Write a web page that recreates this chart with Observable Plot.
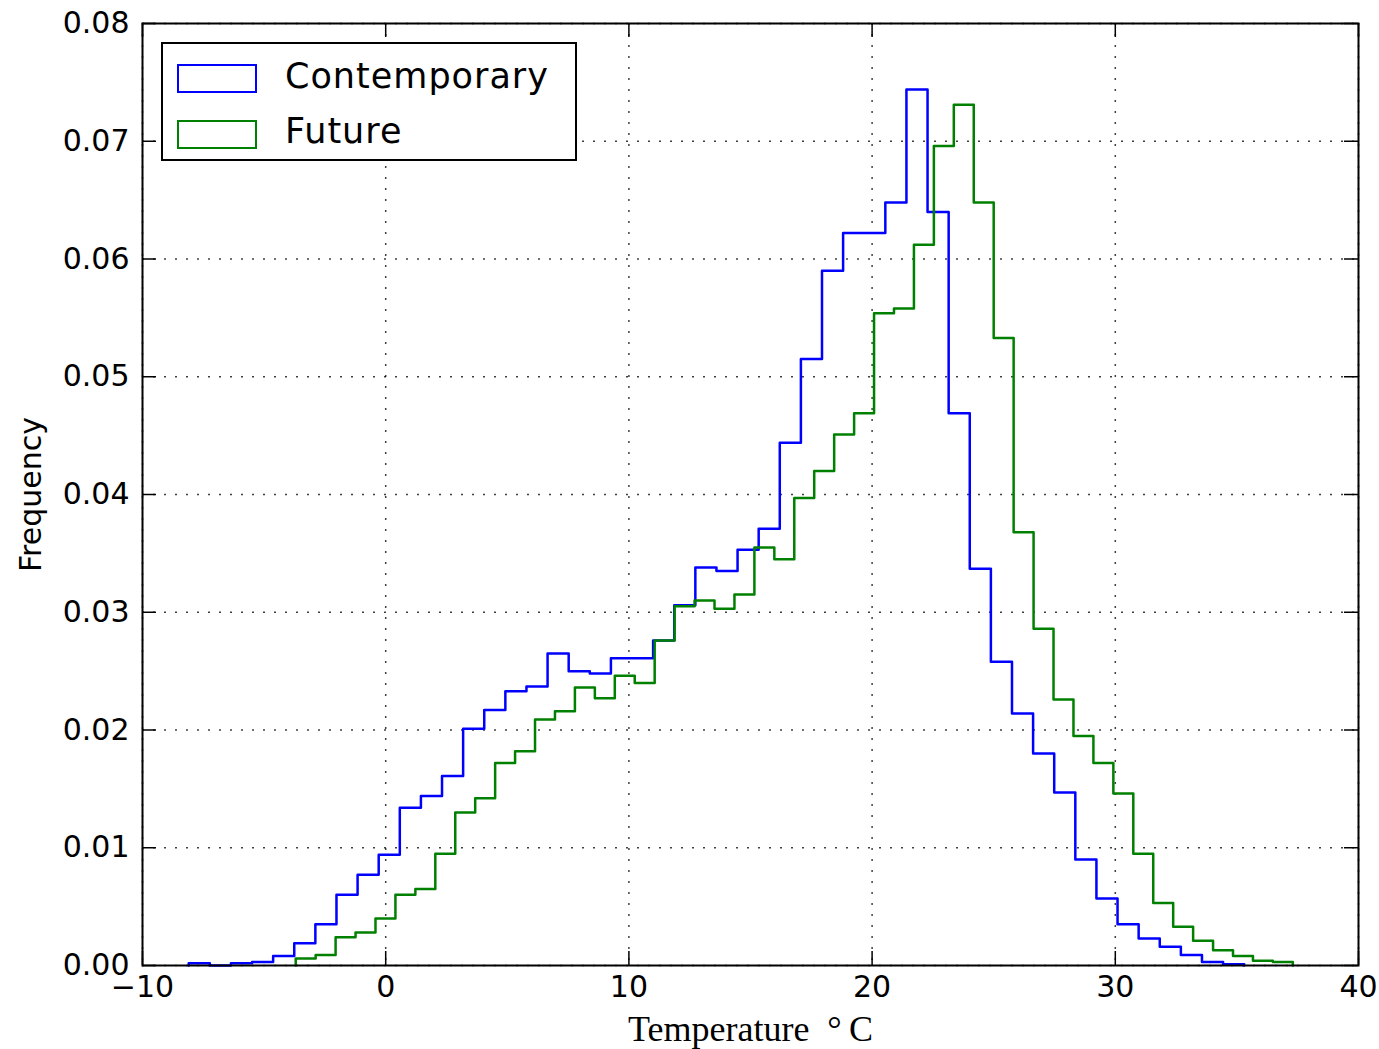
<!DOCTYPE html>
<html>
<head>
<meta charset="utf-8">
<script src="https://cdn.jsdelivr.net/npm/d3@7"></script>
<script src="https://cdn.jsdelivr.net/npm/@observablehq/plot@0.6"></script>
<style>
  html, body { margin: 0; padding: 0; background: #fff; }
  #wrap { position: relative; width: 1379px; height: 1049px; }
  #legend {
    position: absolute; left: 161px; top: 42px; width: 412px; height: 115px;
    border: 2px solid #000; background: #fff; font-family: "DejaVu Sans", sans-serif;
  }
  .item { position: absolute; left: 0; height: 40px; display: flex; align-items: center; }
  .swatch { position: absolute; left: 14px; width: 76px; height: 25px; border-width: 2px; border-style: solid; background: #fff; }
  .lab { position: absolute; left: 122px; font-size: 35px; letter-spacing: 1px; color: #000; white-space: nowrap; line-height: 1; }
</style>
</head>
<body>
<div id="wrap"></div>
<script>
// ---- data ----
const xTicks = [-10, 0, 10, 20, 30, 40];
const yTicks = [0, 0.01, 0.02, 0.03, 0.04, 0.05, 0.06, 0.07, 0.08];
const seriesNames = ["Contemporary", "Future"];
const seriesColors = ["#0000ff", "#008000"];

// histogram range (first and last bin edge), 50 equal bins each
const contemporaryRange = [-8.1, 35.3];
const futureRange = [-3.7, 37.3];

const contemporary = [
  0.0002, 0.0000, 0.0002, 0.0003, 0.0008, 0.0019, 0.0035, 0.0060, 0.0077, 0.0094,
  0.0134, 0.0144, 0.0161, 0.0201, 0.0217, 0.0233, 0.0237, 0.0265, 0.0250, 0.0248,
  0.0261, 0.0261, 0.0276, 0.0306, 0.0338, 0.0335, 0.0353, 0.0371, 0.0444, 0.0515,
  0.0590, 0.0622, 0.0622, 0.0648, 0.0744, 0.0640, 0.0469, 0.0337, 0.0258, 0.0214,
  0.0180, 0.0147, 0.0090, 0.0057, 0.0035, 0.0023, 0.0016, 0.0009, 0.0003, 0.0001
];
const future = [
  0.0006, 0.0009, 0.0024, 0.0028, 0.0040, 0.0060, 0.0065, 0.0095, 0.0130, 0.0142,
  0.0172, 0.0182, 0.0209, 0.0216, 0.0236, 0.0227, 0.0246, 0.0240, 0.0276, 0.0305,
  0.0310, 0.0303, 0.0315, 0.0355, 0.0345, 0.0397, 0.0420, 0.0451, 0.0469, 0.0554,
  0.0558, 0.0612, 0.0696, 0.0731, 0.0648, 0.0533, 0.0368, 0.0286, 0.0226, 0.0195,
  0.0172, 0.0146, 0.0095, 0.0053, 0.0033, 0.0021, 0.0013, 0.0008, 0.0004, 0.0003
];

const xLabel = "Temperature\u2002\u00b0\u2009C";
const yLabel = "Frequency";

// ---- build step outlines (matplotlib histtype="step") ----
function stepOutline(values, [lo, hi], series) {
  const w = (hi - lo) / values.length;
  const pts = [{x: lo, y: 0, series}];
  values.forEach((v, i) => pts.push({x: lo + i * w, y: v, series}));
  pts.push({x: hi, y: 0, series});
  return pts;
}
const outlines = [
  ...stepOutline(contemporary, contemporaryRange, seriesNames[0]),
  ...stepOutline(future, futureRange, seriesNames[1])
];

const W = 1379, H = 1049;
const mL = 142, mR = 21, mT = 23, mB = 84;
const fw = W - mL - mR, fh = H - mT - mB;
const tickLen = 14;
const font = "DejaVu Sans, sans-serif";
const fmtX = d => d < 0 ? "\u2212" + Math.abs(d) : String(d);

const chart = Plot.plot({
  width: W, height: H,
  marginLeft: mL, marginRight: mR, marginTop: mT, marginBottom: mB,
  style: {fontFamily: font, background: "#fff", color: "#000"},
  x: {domain: [-10, 40]},
  y: {domain: [0, 0.08]},
  color: {domain: seriesNames, range: seriesColors},
  marks: [
    Plot.gridX(xTicks, {stroke: "#000", strokeOpacity: 0.75, strokeWidth: 1.5, strokeDasharray: "2,9"}),
    Plot.gridY(yTicks, {stroke: "#000", strokeOpacity: 0.75, strokeWidth: 1.5, strokeDasharray: "2,9"}),
    Plot.line(outlines, {x: "x", y: "y", z: "series", stroke: "series", curve: "step-after", strokeWidth: 2.5}),
    // inward ticks on all four sides
    Plot.tickX(xTicks, {x: d => d, insetTop: fh - tickLen, stroke: "#000", strokeWidth: 1.5}),
    Plot.tickX(xTicks, {x: d => d, insetBottom: fh - tickLen, stroke: "#000", strokeWidth: 1.5}),
    Plot.tickY(yTicks, {y: d => d, insetRight: fw - tickLen, stroke: "#000", strokeWidth: 1.5}),
    Plot.tickY(yTicks, {y: d => d, insetLeft: fw - tickLen, stroke: "#000", strokeWidth: 1.5}),
    Plot.axisX(xTicks, {tickSize: 0, tickPadding: 10, tickFormat: fmtX, fontSize: 30, fontFamily: font, label: null}),
    Plot.axisY(yTicks, {tickSize: 0, tickPadding: 13, tickFormat: d3.format(".2f"), fontSize: 30, fontFamily: font, label: null}),
    Plot.frame({stroke: "#000", strokeWidth: 2}),
    Plot.text([yLabel], {text: d => d, frameAnchor: "left", dx: -111, rotate: -90, textAnchor: "middle", lineAnchor: "middle", fontSize: 30, fontFamily: font, fill: "#000"}),
    Plot.text([xLabel], {text: d => d, frameAnchor: "bottom", dy: 64, textAnchor: "middle", lineAnchor: "middle", fontSize: 36, fontFamily: "Liberation Serif, serif", fill: "#000"})
  ]
});

const wrap = document.getElementById("wrap");
wrap.appendChild(chart);

// legend inside the axes (upper left)
const legend = document.createElement("div");
legend.id = "legend";
seriesNames.forEach((name, i) => {
  const item = document.createElement("div");
  item.className = "item";
  item.style.top = (12 + i * 55) + "px";
  item.style.width = "100%";
  const sw = document.createElement("div");
  sw.className = "swatch";
  sw.style.top = (i === 0 ? 8 : 9) + "px";
  sw.style.borderColor = seriesColors[i];
  const lab = document.createElement("div");
  lab.className = "lab";
  lab.textContent = name;
  item.appendChild(sw);
  item.appendChild(lab);
  legend.appendChild(item);
});
wrap.appendChild(legend);
</script>
</body>
</html>
